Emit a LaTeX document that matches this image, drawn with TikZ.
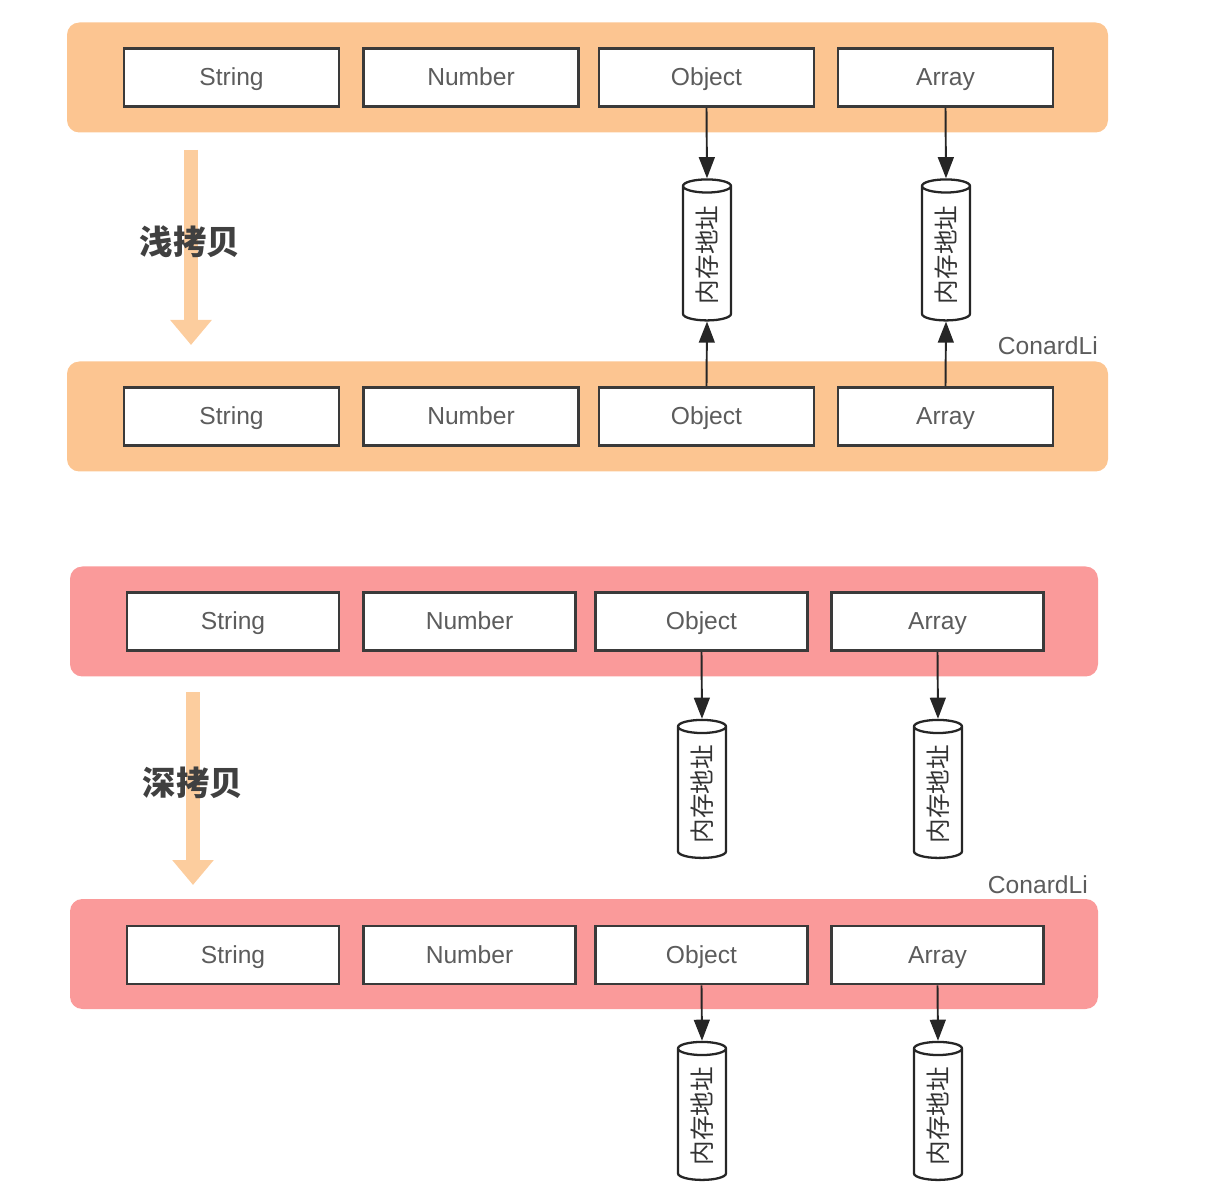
\documentclass[tikz,border=0pt]{standalone}
\usepackage{fontspec}
\setmainfont{Liberation Sans}
\newfontfamily\cjk{Noto Sans CJK SC}
\usetikzlibrary{shapes.geometric,arrows.meta}
\definecolor{peach}{HTML}{FCC591}
\definecolor{rose}{HTML}{FA9A9A}
\definecolor{paleorange}{HTML}{FCCD9E}
\definecolor{boxline}{HTML}{3A3A3A}
\definecolor{txtgray}{HTML}{5C5C5C}
\tikzset{
  band/.style={rounded corners=7pt,inner sep=0pt,minimum height=2.2cm},
  typebox/.style={draw=boxline,fill=white,line width=1.6pt,minimum width=4.3cm,
    minimum height=1.16cm,text=txtgray,text height=0.95em,text depth=0em,
    font=\fontsize{14}{16}\selectfont},
  memcyl/.style={cylinder,draw=black!85,fill=white,line width=1.3pt,rotate=90,
    minimum height=2.82cm,minimum width=0.96cm,aspect=0.5,inner sep=1pt,
    text=black!80,font=\cjk\fontsize{14}{16}\selectfont},
  ptr/.style={-{Triangle[width=9pt,length=12pt]},line width=1.1pt,draw=black!85},
  copyarrow/.style={-{Triangle[width=0.8cm,length=0.5cm]},line width=0.28cm,draw=paleorange},
  copylabel/.style={text=black!75,font=\cjk\bfseries\fontsize{19}{22}\selectfont},
  sign/.style={anchor=east,text=txtgray,font=\fontsize{14}{16}\selectfont}
}
\begin{document}
\begin{tikzpicture}
\useasboundingbox (0,0) rectangle (24.3,-23.94);
% shallow copy
\node[band,fill=peach,minimum width=20.82cm] (srcA) at (11.75,-1.55) {};
\node[band,fill=peach,minimum width=20.82cm] (dstA) at (11.75,-8.33) {};
\node[typebox] (strA) at (4.63,-1.55) {String};
\node[typebox] (numA) at (9.42,-1.55) {Number};
\node[typebox] (objA) at (14.13,-1.55) {Object};
\node[typebox] (arrA) at (18.91,-1.55) {Array};
\node[typebox] (strB) at (4.63,-8.33) {String};
\node[typebox] (numB) at (9.42,-8.33) {Number};
\node[typebox] (objB) at (14.13,-8.33) {Object};
\node[typebox] (arrB) at (18.91,-8.33) {Array};
\node[memcyl] (memObjA) at (14.14,-5.1) {内存地址};
\node[memcyl] (memArrA) at (18.92,-5.1) {内存地址};
\draw[ptr] (objA.south) -- (memObjA.east);
\draw[ptr] (arrA.south) -- (memArrA.east);
\draw[ptr] (objB.north) -- (memObjA.west);
\draw[ptr] (arrB.north) -- (memArrA.west);
\coordinate (shallowTop) at (3.82,-3.0);
\coordinate (shallowEnd) at (3.82,-6.9);
\draw[copyarrow] (shallowTop) -- (shallowEnd);
\node[copylabel] (shallow) at (3.8,-4.84) {浅拷贝};
\node[sign] (signA) at (22.08,-6.92) {ConardLi};
% deep copy
\node[band,fill=rose,minimum width=20.56cm] (srcC) at (11.68,-12.43) {};
\node[band,fill=rose,minimum width=20.56cm] (dstC) at (11.68,-19.08) {};
\node[typebox,minimum width=4.24cm] (strC) at (4.66,-12.43) {String};
\node[typebox,minimum width=4.24cm] (numC) at (9.39,-12.43) {Number};
\node[typebox,minimum width=4.24cm] (objC) at (14.03,-12.43) {Object};
\node[typebox,minimum width=4.24cm] (arrC) at (18.75,-12.43) {Array};
\node[typebox,minimum width=4.24cm] (strD) at (4.66,-19.1) {String};
\node[typebox,minimum width=4.24cm] (numD) at (9.39,-19.1) {Number};
\node[typebox,minimum width=4.24cm] (objD) at (14.03,-19.1) {Object};
\node[typebox,minimum width=4.24cm] (arrD) at (18.75,-19.1) {Array};
\node[memcyl,minimum height=2.76cm] (memObjC) at (14.04,-15.88) {内存地址};
\node[memcyl,minimum height=2.76cm] (memArrC) at (18.76,-15.88) {内存地址};
\node[memcyl,minimum height=2.76cm] (memObjD) at (14.04,-22.32) {内存地址};
\node[memcyl,minimum height=2.76cm] (memArrD) at (18.76,-22.32) {内存地址};
\draw[ptr] (objC.south) -- (memObjC.east);
\draw[ptr] (arrC.south) -- (memArrC.east);
\draw[ptr] (objD.south) -- (memObjD.east);
\draw[ptr] (arrD.south) -- (memArrD.east);
\coordinate (deepTop) at (3.86,-13.84);
\coordinate (deepEnd) at (3.86,-17.7);
\draw[copyarrow] (deepTop) -- (deepEnd);
\node[copylabel] (deep) at (3.86,-15.66) {深拷贝};
\node[sign] (signC) at (21.88,-17.7) {ConardLi};
\end{tikzpicture}
\end{document}
